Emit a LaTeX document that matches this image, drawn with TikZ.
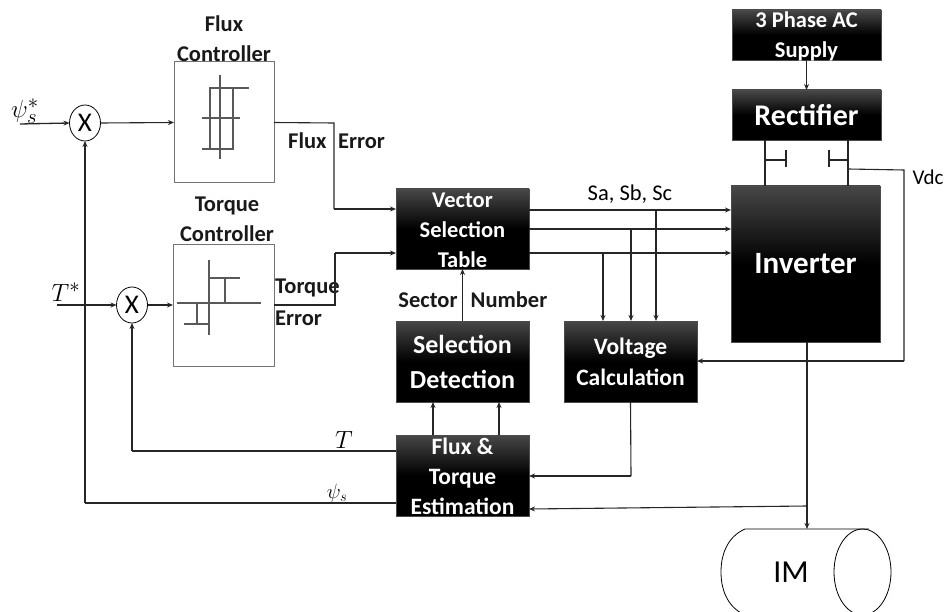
\documentclass[tikz,border=0pt]{standalone}
\usepackage{fontspec}
\setmainfont{Carlito}
\usetikzlibrary{shapes.geometric,arrows.meta}
\tikzset{
  blk/.style={rectangle,draw=black!70,line width=0.6pt,top color=black!72,bottom color=black,middle color=black,inner sep=0pt,outer sep=0pt},
  wtxt/.style={text=white,font=\bfseries,align=center,inner sep=0pt},
  ctrl/.style={rectangle,draw=black!55,line width=1pt,fill=white,inner sep=0pt,outer sep=0pt,minimum width=100pt,minimum height=121pt},
  sumj/.style={ellipse,draw=black,line width=0.8pt,fill=white,inner sep=0pt,outer sep=0pt,minimum width=31pt,minimum height=36pt,font=\fontsize{27}{27}\selectfont},
  lbl/.style={font=\bfseries\fontsize{22.5}{30}\selectfont,align=center,inner sep=0pt,text=black!90},
  wire/.style={line width=1.1pt,draw=black!85},
  arr/.style={wire,-{Stealth[length=6pt,width=5pt]}},
  hys/.style={line width=2pt,draw=black!65},
}
\begin{document}
\begin{tikzpicture}[x=1pt,y=-1pt]
\useasboundingbox (0,0) rectangle (949,612);
\clip (0,0) rectangle (949,612);
% controllers
\node[ctrl] (fc) at (224,122.5) {};
\node[ctrl,minimum width=101pt,minimum height=122pt] (tc) at (223.5,305) {};
% summing junctions
\node[sumj] (s1) at (85,123) {X};
\node[sumj] (s2) at (132,305) {X};
% black boxes
\node[blk,minimum width=133pt,minimum height=80pt] (vec) at (462.5,229) {};
\node[blk,minimum width=133pt,minimum height=81pt] (sel) at (462.5,361.5) {};
\node[blk,minimum width=133pt,minimum height=81pt] (vol) at (630.5,361.5) {};
\node[blk,minimum width=133pt,minimum height=81pt] (est) at (462.5,475.5) {};
\node[blk,minimum width=149pt,minimum height=156pt] (inv) at (805.5,264) {};
\node[blk,minimum width=149pt,minimum height=50pt] (rec) at (806.5,115) {};
\node[blk,minimum width=149pt,minimum height=50pt] (sup) at (806.5,35) {};
% box texts
\node[wtxt,font=\bfseries\fontsize{22.5}{30}\selectfont] (vect) at (462.5,230) {Vector\\Selection\\Table};
\node[wtxt,font=\bfseries\fontsize{26}{35}\selectfont] (selt) at (462.5,362) {Selection\\Detection};
\node[wtxt,font=\bfseries\fontsize{23.5}{31}\selectfont] (volt) at (630.5,362) {Voltage\\Calculation};
\node[wtxt,font=\bfseries\fontsize{23.5}{30}\selectfont] (estt) at (462.5,476) {Flux \&\\Torque\\Estimation};
\node[wtxt,font=\bfseries\fontsize{31}{34}\selectfont] (invt) at (805.5,264) {Inverter};
\node[wtxt,font=\bfseries\fontsize{30}{34}\selectfont] (rect) at (806.5,115) {Rectifier};
\node[wtxt,font=\bfseries\fontsize{22.5}{30}\selectfont] (supt) at (806.5,36) {3 Phase AC\\Supply};
% hysteresis glyphs
\draw[hys,line width=1.5pt] (220,75) -- (220,159);
\draw[hys] (202,118) -- (240,118);
\draw[hys] (249,88) -- (210,88) -- (210,149);
\draw[hys] (233,88) -- (233,149) -- (202,149);
\draw[hys,line width=1.5pt] (209,260) -- (209,335);
\draw[hys] (177,303) -- (261,303);
\draw[hys] (240,278) -- (209,278);
\draw[hys] (225,278) -- (225,303);
\draw[hys] (184,324) -- (209,324);
\draw[hys] (197,303) -- (197,324);
% labels
\node[lbl] (l1) at (224,39) {Flux\\Controller};
\node[lbl] (l2) at (227,219) {Torque\\Controller};
\node[lbl,anchor=west] (l3) at (288,141) {Flux};
\node[lbl,anchor=west] (l4) at (338,141) {Error};
\node[lbl,anchor=west] (l5) at (275,288) {Torque};
\node[lbl,anchor=west] (l6) at (275,318) {Error};
\node[lbl] (l7) at (428,300) {Sector};
\node[lbl] (l8) at (509,300) {Number};
\node[font=\fontsize{22.5}{26}\selectfont,inner sep=0pt] (l9) at (630,194) {Sa, Sb, Sc};
\node[font=\fontsize{21}{26}\selectfont,inner sep=0pt] (l10) at (928,177) {Vdc};
\node[font=\fontsize{28}{28}\selectfont,inner sep=0pt] (l11) at (25,111) {$\psi_s^*$};
\node[font=\fontsize{28}{28}\selectfont,inner sep=0pt] (l12) at (66,292) {$T^*$};
\node[font=\fontsize{24}{24}\selectfont,inner sep=0pt] (l13) at (344,440) {$T$};
\node[font=\fontsize{22}{22}\selectfont,inner sep=0pt] (l14) at (337,493) {$\psi_s$};
% free ends and bends
\coordinate (a1) at (20,124);
\coordinate (a2) at (57,305);
\coordinate (b1) at (334,123);
\coordinate (b2) at (334,209);
\coordinate (c1) at (335,305);
\coordinate (c2) at (335,253);
\coordinate (d1) at (85,503);
\coordinate (d2) at (132,451);
\coordinate (e1) at (656,210);
\coordinate (e2) at (631,229);
\coordinate (e3) at (603,253);
\coordinate (f1) at (631,476);
\coordinate (g1) at (765,160);
\coordinate (g2) at (786,160);
\coordinate (g3) at (848,160);
\coordinate (g4) at (829,160);
\coordinate (h1) at (848,169);
\coordinate (h2) at (904,170);
\coordinate (h3) at (904,361);
\coordinate (i1) at (807,506);
\coordinate (i2) at (433,0);
\coordinate (i3) at (499,0);
\coordinate (m1) at (807,529);
% connectors
\draw[arr,line width=1.3pt] (a1) -- (s1.west);
\draw[arr] (s1.east) -- (fc.west);
\draw[wire] (fc.east) -- (b1) -- (b2);
\draw[arr] (b2) -- (vec.west |- b2);
\draw[arr,line width=1.3pt] (a2) -- (s2.west);
\draw[arr] (s2.east) -- (tc.west);
\draw[wire] (tc.east) -- (c1) -- (c2);
\draw[arr] (c2) -- (vec.west |- c2);
\draw[wire] (est.west |- d1) -- (d1);
\draw[arr] (d1) -- (s1.south);
\draw[wire] (est.west |- d2) -- (d2);
\draw[arr] (d2) -- (s2.south);
\draw[arr] (vec.east |- e1) -- (inv.west |- e1);
\draw[arr] (vec.east |- e2) -- (inv.west |- e2);
\draw[arr] (vec.east |- e3) -- (inv.west |- e3);
\draw[arr] (e1) -- (vol.north -| e1);
\draw[arr] (e2) -- (vol.north -| e2);
\draw[arr] (e3) -- (vol.north -| e3);
\draw[arr] (sel.north) -- (vec.south);
\draw[arr] (est.north -| i2) -- (sel.south -| i2);
\draw[arr] (est.north -| i3) -- (sel.south -| i3);
\draw[wire] (vol.south) -- (f1);
\draw[arr] (f1) -- (est.east |- f1);
\draw[arr] (sup.south -| rect) -- (rec.north -| rect);
% DC link
\draw[wire] (rec.south -| g1) -- (inv.north -| g1);
\draw[wire] (rec.south -| g3) -- (inv.north -| g3);
\draw[wire] (g1) -- (g2);
\draw[wire,line width=1.3pt] ([yshift=-7pt]g2) -- ([yshift=10pt]g2);
\draw[wire] (g3) -- (g4);
\draw[wire,line width=1.3pt] ([yshift=-7pt]g4) -- ([yshift=10pt]g4);
\draw[wire] (h1) -- (h2) -- (h3);
\draw[arr] (h3) -- (vol.east |- h3);
% motor
\node[inner sep=0pt,font=\fontsize{32}{32}\selectfont] (imt) at (791,572) {IM};
\coordinate (mr) at (862.5,572);
\draw[line width=0.8pt] (mr) ellipse [x radius=28.5pt,y radius=43pt];
\draw[line width=0.8pt] (869,529) -- (745,529) .. controls (729,536) and (721,552) .. (721,572) .. controls (721,592) and (729,608) .. (745,615) -- (869,615);
\draw[arr] (inv.south -| m1) -- (m1);
\draw[arr] (i1) -- (est.east |- 0,509);
\end{tikzpicture}
\end{document}
